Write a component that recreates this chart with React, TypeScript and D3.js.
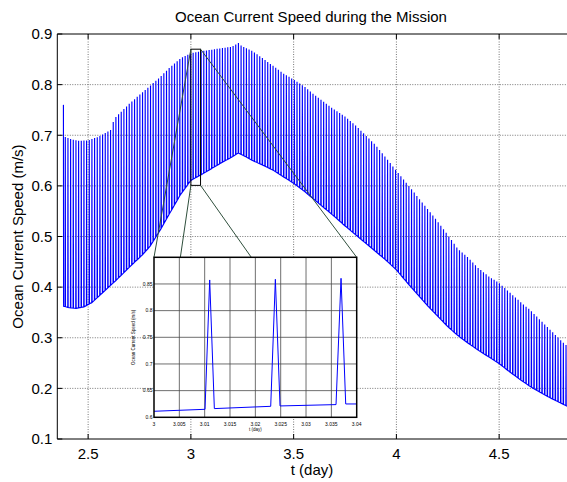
import React, { useEffect, useRef } from "react";
import * as d3 from "d3";

const chartTitle = "Ocean Current Speed during the Mission";
const xLabel = "t (day)";
const yLabel = "Ocean Current Speed (m/s)";

const xTicks = [2.5, 3, 3.5, 4, 4.5];
const yTicks = [0.1, 0.2, 0.3, 0.4, 0.5, 0.6, 0.7, 0.8, 0.9];

// first sample of the record
const startT = 2.3798;
const startV = 0.76;
const endT = 4.835;

// surfacing spikes: one every ~0.013 day
const spikeAnchor = 3.01099;
const spikePeriod = 0.01296;
const spikeRise = 0.00092;

// spike tops (upper envelope)
const upperT = [2.385, 2.42, 2.45, 2.5, 2.55, 2.6, 2.615, 2.625, 2.65, 2.7, 2.75, 2.8, 2.85, 2.9, 2.95, 3.0, 3.05, 3.1, 3.15, 3.2, 3.235, 3.245, 3.3, 3.35, 3.4, 3.45, 3.5, 3.55, 3.6, 3.65, 3.7, 3.75, 3.8, 3.85, 3.9, 3.95, 4.0, 4.05, 4.1, 4.15, 4.2, 4.25, 4.3, 4.35, 4.4, 4.45, 4.5, 4.55, 4.6, 4.65, 4.7, 4.75, 4.8, 4.84];
const upperV = [0.697, 0.692, 0.689, 0.69, 0.697, 0.708, 0.712, 0.732, 0.742, 0.762, 0.78, 0.797, 0.815, 0.835, 0.852, 0.862, 0.866, 0.869, 0.872, 0.875, 0.883, 0.877, 0.866, 0.852, 0.837, 0.822, 0.81, 0.797, 0.78, 0.765, 0.75, 0.737, 0.72, 0.7, 0.68, 0.655, 0.63, 0.605, 0.58, 0.555, 0.53, 0.503, 0.475, 0.458, 0.437, 0.421, 0.408, 0.39, 0.372, 0.355, 0.335, 0.315, 0.295, 0.28];

// base speed between spikes (lower envelope)
const lowerT = [2.385, 2.4, 2.44, 2.48, 2.52, 2.56, 2.6, 2.64, 2.68, 2.72, 2.76, 2.8, 2.85, 2.9, 2.95, 3.0, 3.05, 3.1, 3.15, 3.2, 3.23, 3.27, 3.3, 3.35, 3.4, 3.45, 3.5, 3.55, 3.6, 3.65, 3.7, 3.75, 3.8, 3.85, 3.9, 3.95, 4.0, 4.05, 4.1, 4.15, 4.2, 4.25, 4.3, 4.35, 4.4, 4.45, 4.5, 4.55, 4.6, 4.65, 4.7, 4.75, 4.8, 4.84];
const lowerV = [0.362, 0.36, 0.358, 0.361, 0.37, 0.385, 0.4, 0.415, 0.431, 0.447, 0.462, 0.48, 0.512, 0.548, 0.583, 0.611, 0.622, 0.634, 0.646, 0.657, 0.665, 0.657, 0.65, 0.641, 0.631, 0.618, 0.605, 0.59, 0.573, 0.556, 0.539, 0.521, 0.504, 0.487, 0.47, 0.453, 0.434, 0.41, 0.387, 0.364, 0.343, 0.322, 0.304, 0.289, 0.275, 0.262, 0.249, 0.233, 0.218, 0.204, 0.192, 0.181, 0.171, 0.163];

// inset: the raw record between t = 3.00 and 3.04
const insetT = [3.0, 3.01007, 3.01099, 3.01191, 3.02303, 3.02395, 3.02487, 3.03592, 3.03691, 3.03783, 3.04];
const insetV = [0.6113, 0.615, 0.8575, 0.6163, 0.6206, 0.8588, 0.6213, 0.6238, 0.8606, 0.625, 0.625];
const insetXTicks = [3, 3.005, 3.01, 3.015, 3.02, 3.025, 3.03, 3.035, 3.04];
const insetYTicks = [0.6, 0.65, 0.7, 0.75, 0.8, 0.85];

// zoom box drawn on the main plot
const boxT = [3.0, 3.047];
const boxV = [0.601, 0.87];

const W = 567;
const H = 482;
const FONT = "'Liberation Sans', Arial, Helvetica, sans-serif";

const App = () => {
  const ref = useRef<SVGSVGElement>(null);

  useEffect(() => {
    const svg = d3.select(ref.current);
    svg.selectAll("*").remove();

    const plot = { left: 57.3, right: 568, top: 34, bottom: 439 };
    const x = d3.scaleLinear().domain([2.35, 4.835]).range([plot.left, plot.right]);
    const y = d3.scaleLinear().domain([0.1, 0.9]).range([plot.bottom, plot.top]);

    svg
      .append("defs")
      .append("clipPath")
      .attr("id", "plot-clip")
      .append("rect")
      .attr("x", plot.left)
      .attr("y", plot.top)
      .attr("width", plot.right - plot.left)
      .attr("height", plot.bottom - plot.top);

    // grid
    const grid = svg.append("g").attr("stroke", "#666").attr("stroke-width", 0.9).attr("stroke-dasharray", "1,1.5");
    xTicks.forEach((t) => {
      grid.append("line").attr("x1", x(t)).attr("x2", x(t)).attr("y1", plot.top).attr("y2", plot.bottom);
    });
    yTicks.slice(1, -1).forEach((v) => {
      grid.append("line").attr("x1", plot.left).attr("x2", plot.right).attr("y1", y(v)).attr("y2", y(v));
    });

    // build the record from the envelopes
    const upper = d3.scaleLinear().domain(upperT).range(upperV).clamp(true);
    const lower = d3.scaleLinear().domain(lowerT).range(lowerV).clamp(true);
    const series: [number, number][] = [
      [startT, startV],
      [startT + spikeRise, lower(startT + spikeRise)],
    ];
    const k0 = Math.ceil((startT + 2 * spikeRise - spikeAnchor) / spikePeriod);
    for (let k = k0; ; k++) {
      const t = spikeAnchor + k * spikePeriod;
      if (t - spikeRise > endT) break;
      series.push([t - spikeRise, lower(t - spikeRise)]);
      series.push([t, upper(t)]);
      series.push([t + spikeRise, lower(t + spikeRise)]);
    }
    series.push([endT, lower(endT)]);

    const line = d3
      .line<[number, number]>()
      .x((d) => x(d[0]))
      .y((d) => y(d[1]));

    svg
      .append("path")
      .attr("clip-path", "url(#plot-clip)")
      .attr("d", line(series))
      .attr("fill", "none")
      .attr("stroke", "#0000ff")
      .attr("stroke-width", 1.15);

    // frame and ticks
    const frame = svg.append("g").attr("stroke", "#000").attr("stroke-width", 1);
    frame.append("line").attr("x1", plot.left).attr("x2", plot.left).attr("y1", plot.top).attr("y2", plot.bottom);
    frame.append("line").attr("x1", plot.left).attr("x2", plot.right).attr("y1", plot.top).attr("y2", plot.top);
    frame.append("line").attr("x1", plot.left).attr("x2", plot.right).attr("y1", plot.bottom).attr("y2", plot.bottom);
    xTicks.forEach((t) => {
      frame.append("line").attr("x1", x(t)).attr("x2", x(t)).attr("y1", plot.bottom).attr("y2", plot.bottom - 5);
      frame.append("line").attr("x1", x(t)).attr("x2", x(t)).attr("y1", plot.top).attr("y2", plot.top + 5);
    });
    yTicks.forEach((v) => {
      frame.append("line").attr("x1", plot.left).attr("x2", plot.left + 5).attr("y1", y(v)).attr("y2", y(v));
    });

    const labels = svg.append("g").attr("font-family", FONT).attr("font-size", 15).attr("fill", "#000");
    xTicks.forEach((t) => {
      labels.append("text").attr("x", x(t)).attr("y", 459).attr("text-anchor", "middle").text(d3.format("")(t));
    });
    yTicks.forEach((v) => {
      labels
        .append("text")
        .attr("x", plot.left - 5)
        .attr("y", y(v))
        .attr("dy", "0.35em")
        .attr("text-anchor", "end")
        .text(d3.format(".1f")(v));
    });
    labels.append("text").attr("x", 311).attr("y", 22).attr("text-anchor", "middle").text(chartTitle);
    labels.append("text").attr("x", 312).attr("y", 475).attr("text-anchor", "middle").text(xLabel);
    labels
      .append("text")
      .attr("transform", `translate(22.5, ${(plot.top + plot.bottom) / 2}) rotate(-90)`)
      .attr("text-anchor", "middle")
      .text(yLabel);

    // zoom box and connectors
    const inset = { left: 154, right: 356.7, top: 257.3, bottom: 417.3 };
    const bx0 = x(boxT[0]);
    const bx1 = x(boxT[1]);
    const by0 = y(boxV[1]);
    const by1 = y(boxV[0]);
    svg
      .append("rect")
      .attr("x", bx0)
      .attr("y", by0)
      .attr("width", bx1 - bx0)
      .attr("height", by1 - by0)
      .attr("fill", "none")
      .attr("stroke", "#000")
      .attr("stroke-width", 1);

    const iw = inset.right - inset.left;
    const connectors = [
      [bx0, by0, 0],
      [bx0, by1, 0.13],
      [bx1, by1, 0.48],
      [bx1, by0, 1],
    ];
    connectors.forEach(([cx, cy, f]) => {
      svg
        .append("line")
        .attr("x1", cx)
        .attr("y1", cy)
        .attr("x2", inset.left + f * iw)
        .attr("y2", inset.top)
        .attr("stroke", "#2f4f3c")
        .attr("stroke-width", 1);
    });

    // inset
    const ix = d3.scaleLinear().domain([3.0, 3.04]).range([inset.left, inset.right]);
    const iy = d3.scaleLinear().domain([0.6, 0.9]).range([inset.bottom, inset.top]);
    const g = svg.append("g");
    g.append("rect")
      .attr("x", inset.left)
      .attr("y", inset.top)
      .attr("width", iw)
      .attr("height", inset.bottom - inset.top)
      .attr("fill", "#fff");

    const igrid = g.append("g").attr("stroke", "#4a4a4a").attr("stroke-width", 0.8);
    insetXTicks.slice(1, -1).forEach((t) => {
      igrid.append("line").attr("x1", ix(t)).attr("x2", ix(t)).attr("y1", inset.top).attr("y2", inset.bottom);
    });
    insetYTicks.slice(1).forEach((v) => {
      igrid.append("line").attr("x1", inset.left).attr("x2", inset.right).attr("y1", iy(v)).attr("y2", iy(v));
    });

    const iline = d3
      .line<number>()
      .x((_, i) => ix(insetT[i]))
      .y((d) => iy(d));
    g.append("path")
      .attr("d", iline(insetV))
      .attr("fill", "none")
      .attr("stroke", "#0000ff")
      .attr("stroke-width", 1);

    g.append("rect")
      .attr("x", inset.left)
      .attr("y", inset.top)
      .attr("width", iw)
      .attr("height", inset.bottom - inset.top)
      .attr("fill", "none")
      .attr("stroke", "#000")
      .attr("stroke-width", 1.5);

    const ilabels = g.append("g").attr("font-family", FONT).attr("font-size", 5).attr("fill", "#000");
    insetXTicks.forEach((t) => {
      ilabels.append("text").attr("x", ix(t)).attr("y", inset.bottom + 8.5).attr("text-anchor", "middle").text(d3.format("")(t));
    });
    insetYTicks.forEach((v) => {
      ilabels
        .append("text")
        .attr("x", inset.left - 1.5)
        .attr("y", iy(v))
        .attr("dy", "0.35em")
        .attr("text-anchor", "end")
        .text(d3.format("")(v));
    });
    ilabels
      .append("text")
      .attr("transform", `translate(135, ${(inset.top + inset.bottom) / 2}) rotate(-90)`)
      .attr("text-anchor", "middle")
      .attr("font-size", 4.5)
      .text(yLabel);
    ilabels
      .append("text")
      .attr("x", (inset.left + inset.right) / 2)
      .attr("y", inset.bottom + 14)
      .attr("text-anchor", "middle")
      .attr("font-size", 4.5)
      .text(xLabel);
  }, []);

  return (
    <svg
      ref={ref}
      width={W}
      height={H}
      style={{ position: "absolute", left: 0, top: 0, background: "#fff" }}
    />
  );
};

export default App;
